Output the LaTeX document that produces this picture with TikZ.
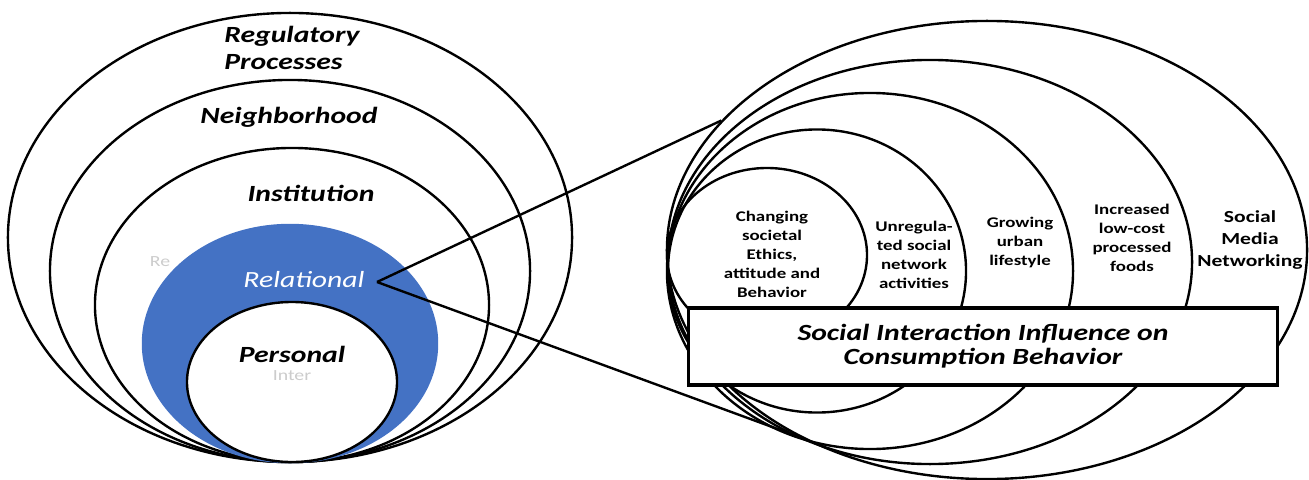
\documentclass[tikz,border=0pt]{standalone}
\usepackage{fontspec}
\setmainfont{Carlito}[FakeStretch=1.28]
\usepackage{tikz}
\usetikzlibrary{shapes.geometric,positioning}
\definecolor{relBlue}{HTML}{4472C4}

\begin{document}
\begin{tikzpicture}[x=0.025cm, y=-0.025cm, line width=1.7pt,
  ring/.style={ellipse,draw,inner sep=0pt},
  lvl/.style={font=\fontsize{16.5}{19}\selectfont\bfseries\itshape,align=center},
  fac/.style={font=\fontsize{10.5}{13.5}\selectfont\bfseries,align=center},
  ghost/.style={font=\fontsize{11}{12}\selectfont,text=gray!40,inner sep=0pt}]
\useasboundingbox (0,0) rectangle (1309,480);
% --- levels of influence ---
  \node[ring,minimum width=14.1cm,minimum height=11.225cm] (reg) at (290,237.5) {};
  \node[ring,minimum width=12cm,minimum height=9.55cm] (nbh) at (290,271) {};
  \node[ring,minimum width=9.85cm,minimum height=7.85cm] (inst) at (292,305) {};
  \node[ring,draw=relBlue,fill=relBlue,minimum width=7.35cm,minimum height=5.925cm] (rel) at (290,343.5) {};
  \node[ring,fill=white,minimum width=5.25cm,minimum height=4cm] (pers) at (292,382) {};
  \node[lvl,align=left] (regT) at (292,48) {Regulatory\\Processes};
  \node[lvl] (nbhT) at (289,117) {Neighborhood};
  \node[lvl] (instT) at (311,193) {Institution};
  \node[font=\fontsize{16.5}{19}\selectfont\itshape,text=white] (relT) at (304,280) {Relational};
  \node[ghost] (reG) at (160,262) {Re};
  \node[lvl,inner sep=1pt] (persT) at (292,354) {Personal};
  \node[ghost,below=3pt of persT] (inG) {Inter};
% --- social interaction factors ---
  \node[ring,minimum width=16cm,minimum height=11.45cm] (soc) at (987,250) {};
  \node[ring,minimum width=13.1cm,minimum height=10.1cm] (inc) at (930,262) {};
  \node[ring,minimum width=10.15cm,minimum height=8.9cm] (grw) at (870,271) {};
  \node[ring,minimum width=7.45cm,minimum height=7.075cm] (unr) at (817,271) {};
  \node[ring,minimum width=5cm,minimum height=4.35cm] (chg) at (767,255) {};
  \coordinate (rv) at (377,282);
  \draw (rv) -- (soc.154);
  \draw (rv) -- (soc.225);
  \node[fac] (chgT) at (772,254) {Changing\\societal\\Ethics,\\attitude and\\Behavior};
  \node[fac] (unrT) at (914,255) {Unregula-\\ted social\\network\\activities};
  \node[fac] (grwT) at (1020,242) {Growing\\urban\\lifestyle};
  \node[fac] (incT) at (1132,238) {Increased\\low-cost\\processed\\foods};
  \node[fac,font=\fontsize{12}{15.5}\selectfont\bfseries] (socT) at (1250,240) {Social\\Media\\Networking};
  \node[draw,fill=white,line width=2.2pt,minimum width=14.7cm,minimum height=1.925cm,
    lvl,font=\fontsize{16.5}{17}\selectfont\bfseries\itshape] (sib) at (983,346.5)
    {Social Interaction Influence on\\Consumption Behavior};
\end{tikzpicture}
\end{document}
